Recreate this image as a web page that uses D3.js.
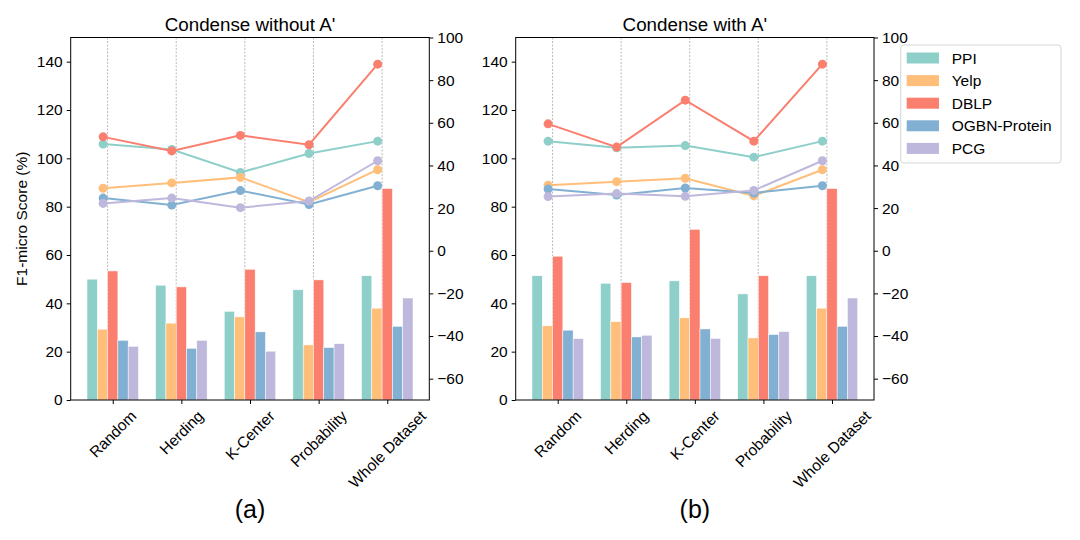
<!DOCTYPE html>
<html lang="en">
  <head>
    <meta charset="UTF-8" />
    <title>Condense with / without A'</title>
    <script src="https://d3js.org/d3.v7.min.js"></script>
    <style>
      body { margin: 0; background: #fff; }
      text { font-family: "Liberation Sans", Arial, Helvetica, sans-serif; fill: #000; }
    </style>
  </head>
  <body>
    <svg width="1080" height="540"></svg>
    <script>
      // categories and series
      const methods = ["Random", "Herding", "K-Center", "Probability", "Whole Dataset"];
      const datasets = ["PPI", "Yelp", "DBLP", "OGBN-Protein", "PCG"];
      const colors = ["#8ECFC9", "#FFBE7A", "#FA7F6F", "#82B0D2", "#BEB8DC"];

      // F1-micro (%) - condense without A'
      const ppiWithout = [50.0, 47.5, 36.7, 45.6, 51.4];
      const yelpWithout = [29.3, 31.8, 34.4, 22.8, 38.0];
      const dblpWithout = [53.4, 46.8, 54.1, 49.7, 87.5];
      const ogbnWithout = [24.7, 21.4, 28.2, 21.7, 30.5];
      const pcgWithout = [22.2, 24.7, 20.2, 23.3, 42.2];

      // F1-micro (%) - condense with A'
      const ppiWith = [51.4, 48.3, 49.3, 43.9, 51.4];
      const yelpWith = [30.7, 32.4, 34.0, 25.7, 38.0];
      const dblpWith = [59.5, 48.6, 70.6, 51.4, 87.5];
      const ogbnWith = [28.9, 26.1, 29.4, 27.1, 30.5];
      const pcgWith = [25.4, 26.8, 25.5, 28.3, 42.2];

      const leftTicks = [0, 20, 40, 60, 80, 100, 120, 140];
      const rightTicks = [-60, -40, -20, 0, 20, 40, 60, 80, 100];

      const panels = [
        { title: "Condense without A'", tag: "(a)", x0: 70.7, x1: 429.3, ylabel: true,
          series: [ppiWithout, yelpWithout, dblpWithout, ogbnWithout, pcgWithout] },
        { title: "Condense with A'", tag: "(b)", x0: 515.7, x1: 874, ylabel: false,
          series: [ppiWith, yelpWith, dblpWith, ogbnWith, pcgWith] },
      ];

      const yTop = 37.5, yBottom = 400;
      const barW = 0.15;
      const fmt = (d) => (d < 0 ? "\u2212" + Math.abs(d) : "" + d);
      const svg = d3.select("svg");

      panels.forEach((p) => {
        const x = d3.scaleLinear().domain([-0.6125, 4.6125]).range([p.x0, p.x1]);
        const yL = d3.scaleLinear().domain([0, 150]).range([yBottom, yTop]);
        const yR = d3.scaleLinear().domain([-70, 100]).range([yBottom, yTop]);
        const g = svg.append("g");

        // dashed vertical guides
        g.selectAll(".grid")
          .data(methods)
          .enter()
          .append("line")
          .attr("x1", (d, i) => x(i - 0.075))
          .attr("x2", (d, i) => x(i - 0.075))
          .attr("y1", yTop)
          .attr("y2", yBottom)
          .attr("stroke", "#aaa")
          .attr("stroke-width", 0.8)
          .attr("stroke-dasharray", "2,1.5");

        // bars (left axis)
        p.series.forEach((vals, j) => {
          g.selectAll(".bar" + j)
            .data(vals)
            .enter()
            .append("rect")
            .attr("x", (d, i) => x(i + (j - 2) * barW - barW / 2))
            .attr("width", x(barW) - x(0))
            .attr("y", (d) => yL(d))
            .attr("height", (d) => yBottom - yL(d))
            .attr("fill", colors[j])
            .attr("stroke", "#fff")
            .attr("stroke-width", 0.5);
        });

        // lines (right axis)
        const line = d3.line().x((d, i) => x(i - 0.14)).y((d) => yR(d));
        p.series.forEach((vals, j) => {
          g.append("path")
            .attr("d", line(vals))
            .attr("fill", "none")
            .attr("stroke", colors[j])
            .attr("stroke-width", 2);
          g.selectAll(".pt" + j)
            .data(vals)
            .enter()
            .append("circle")
            .attr("cx", (d, i) => x(i - 0.14))
            .attr("cy", (d) => yR(d))
            .attr("r", 4.5)
            .attr("fill", colors[j]);
        });

        // frame
        g.append("rect")
          .attr("x", p.x0).attr("y", yTop)
          .attr("width", p.x1 - p.x0).attr("height", yBottom - yTop)
          .attr("fill", "none").attr("stroke", "#000").attr("stroke-width", 1);

        // left axis
        const la = g.append("g").attr("transform", `translate(${p.x0},0)`)
          .call(d3.axisLeft(yL).tickValues(leftTicks).tickSize(4).tickPadding(4));
        // right axis
        const ra = g.append("g").attr("transform", `translate(${p.x1},0)`)
          .call(d3.axisRight(yR).tickValues(rightTicks).tickFormat(fmt).tickSize(4).tickPadding(4));
        // bottom axis
        const ba = g.append("g").attr("transform", `translate(0,${yBottom})`)
          .call(d3.axisBottom(x).tickValues(d3.range(methods.length)).tickSize(4).tickFormat(""));
        [la, ra, ba].forEach((a) => {
          a.select(".domain").remove();
          a.selectAll("text").style("font-size", "15.5px").attr("font-family", null);
          a.selectAll("line").attr("stroke", "#000");
        });

        // rotated category labels, bbox centred on tick
        methods.forEach((m, i) => {
          const t = g.append("text")
            .attr("text-anchor", "middle")
            .attr("dominant-baseline", "central")
            .style("font-size", "15.5px")
            .text(m);
          const w = t.node().getComputedTextLength();
          const h = 15.5 * 0.95;
          const cy = 408 + (w + h) / (2 * Math.SQRT2);
          t.attr("transform", `translate(${x(i)},${cy}) rotate(-45)`);
        });

        // title and tag
        g.append("text")
          .attr("x", (p.x0 + p.x1) / 2).attr("y", 31)
          .attr("text-anchor", "middle")
          .style("font-size", "18.8px")
          .text(p.title);
        g.append("text")
          .attr("x", (p.x0 + p.x1) / 2).attr("y", 518)
          .attr("text-anchor", "middle")
          .style("font-size", "25px")
          .text(p.tag);

        if (p.ylabel) {
          g.append("text")
            .attr("transform", `translate(27,${(yTop + yBottom) / 2}) rotate(-90)`)
            .attr("text-anchor", "middle")
            .style("font-size", "15.5px")
            .text("F1-micro Score (%)");
        }
      });

      // legend
      const lg = svg.append("g").attr("transform", "translate(900.7,45)");
      lg.append("rect")
        .attr("width", 160.3).attr("height", 118)
        .attr("rx", 3)
        .attr("fill", "#fff").attr("fill-opacity", 0.8)
        .attr("stroke", "#d6d6d6").attr("stroke-width", 1);
      datasets.forEach((d, i) => {
        const cy = 13 + i * 22.6;
        lg.append("rect")
          .attr("x", 6).attr("y", cy - 5.5)
          .attr("width", 32.3).attr("height", 11)
          .attr("fill", colors[i]);
        lg.append("text")
          .attr("x", 51).attr("y", cy)
          .attr("dominant-baseline", "central")
          .style("font-size", "15.5px")
          .text(d);
      });
    </script>
  </body>
</html>
